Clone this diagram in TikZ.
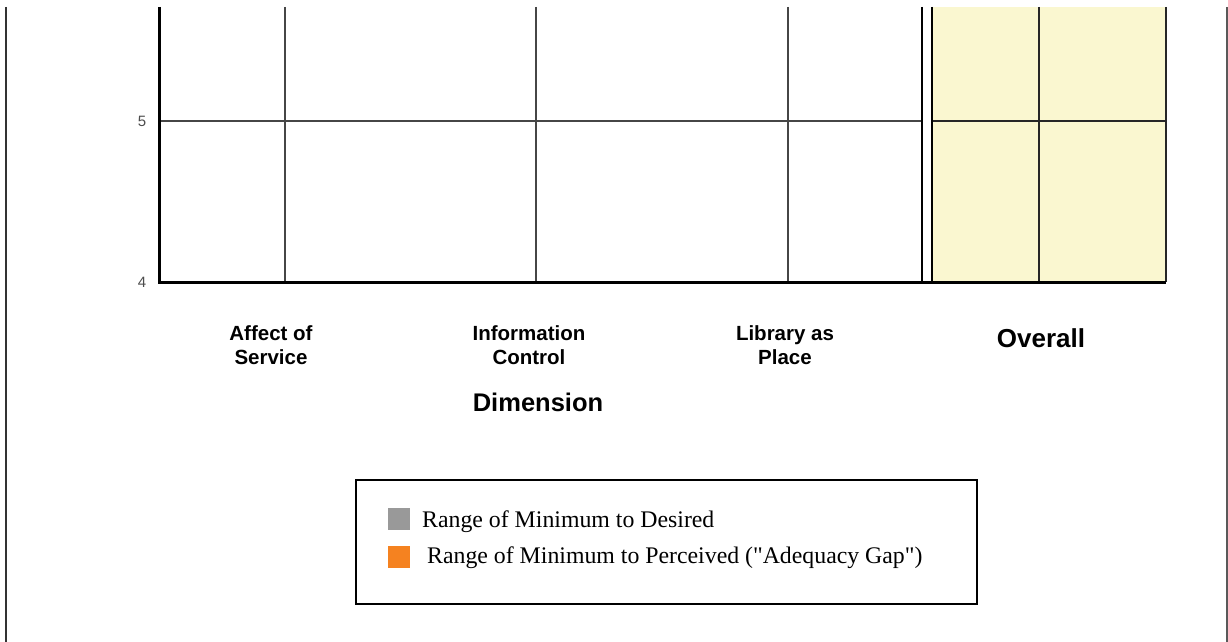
\documentclass[tikz,border=0pt]{standalone}
\usepackage{fontspec}
\setmainfont{Liberation Sans}
\newfontfamily\legendfont{Liberation Serif}
\usepackage{tikz}
\usetikzlibrary{positioning}
\usetikzlibrary{calc}
\definecolor{overallfill}{RGB}{250,247,208}
\definecolor{gridgray}{RGB}{70,70,70}
\definecolor{desiredgray}{RGB}{153,153,153}
\definecolor{gaporange}{RGB}{245,130,32}
\tikzset{
  % Common styles for the chart
  axis/.style={draw=black, line width=3pt},
  gridline/.style={draw=gridgray, line width=1.5pt},
  frameline/.style={draw=black!80, line width=2pt},
  catlabel/.style={font=\bfseries\fontsize{20.5}{24}\selectfont, align=center},
  ticklabel/.style={font=\fontsize{15}{16}\selectfont, text=black!70, inner sep=0pt}
}

\begin{document}
\begin{tikzpicture}[x=1pt, y=-1pt]
    % Define styles
    \tikzstyle{legendbox} = [draw, line width=2.5pt]
    \tikzstyle{swatch} = [minimum width=22pt, minimum height=22pt, inner sep=0pt]
    \tikzstyle{legendtext} = [font=\legendfont\fontsize{23.8}{26}\selectfont, inner sep=0pt, anchor=west]

    \useasboundingbox (0,0) rectangle (1228,642);

    % Page frame
    \draw [frameline] (6,7) -- (6,642);
    \draw [frameline, draw=black!65] (1227,7) -- (1227,642);

    % Overall panel
    \fill [overallfill] (931,7) rectangle (1166,282);

    % Grid
    \draw [gridline] (159,121) -- (923,121);
    \draw [gridline, draw=black!85] (931,121) -- (1166,121);
    \foreach \gx in {285,536,788} {
      \draw [gridline] (\gx,7) -- (\gx,282);
    }
    \draw [gridline, draw=black!85] (1039,7) -- (1039,282);
    \draw [gridline, draw=black!85] (1166,7) -- (1166,282);
    \draw [line width=2.5pt] (922,7) -- (922,282);
    \draw [line width=2.5pt] (932,7) -- (932,282);

    % Axes
    \draw [axis] (159,7) -- (159,282) -- (1166,282);

    % Place nodes
    \node [ticklabel] (tick5) at (142,121) {5};
    \node [ticklabel] (tick4) at (142,282) {4};

    \node [catlabel] (affect) at (271,345) {Affect of\\Service};
    \node [catlabel] (info) at (529,345) {Information\\Control};
    \node [catlabel] (place) at (785,345) {Library as\\Place};
    \node [font=\bfseries\fontsize{26}{28}\selectfont] (overall) at (1041,338) {Overall};
    \node [font=\bfseries\fontsize{25.5}{28}\selectfont] (dimension) at (538,402) {Dimension};

    % Legend
    \draw [legendbox] (356,480) rectangle (977,604);
    \node [swatch, fill=desiredgray] (desired) at (399,519) {};
    \node [swatch, fill=gaporange] (gap) at (399,556.5) {};
    \node [legendtext] (desiredtext) at (422,522) {Range of Minimum to Desired};
    \node [legendtext] (gaptext) at (427,558) {Range of Minimum to Perceived ("Adequacy Gap")};
\end{tikzpicture}
\end{document}
